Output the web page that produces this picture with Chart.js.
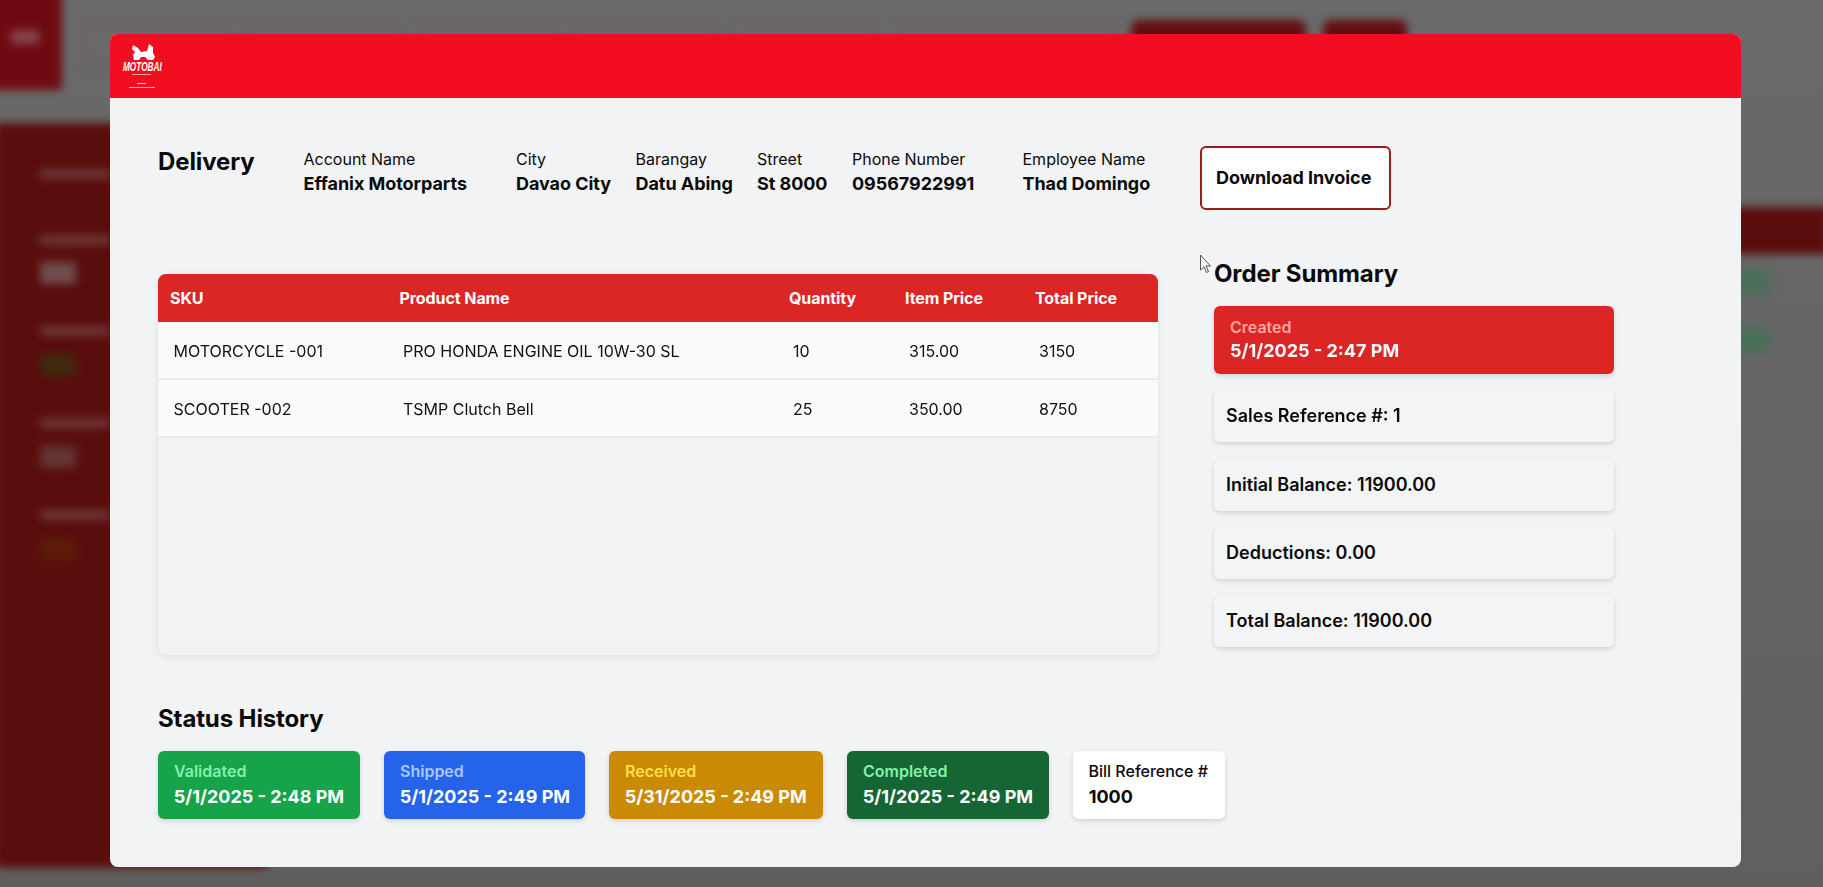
<!DOCTYPE html>
<html><head><meta charset="utf-8"><title>Delivery</title>
<script src="https://cdn.jsdelivr.net/npm/chart.js@4"></script>
<style>
html,body{margin:0;padding:0;width:1823px;height:887px;overflow:hidden;background:#666;font-family:Inter,sans-serif;color:#0a0a0a}
.a{position:absolute}
.t{position:absolute;white-space:nowrap;line-height:1;transform:translateY(-50%)}
#bg{position:absolute;left:0;top:0;width:1823px;height:887px;background:linear-gradient(#6a6a6a,#5f5f5f);overflow:hidden}
#blur{position:absolute;inset:0;filter:blur(4px)}
#modal{position:absolute;left:110px;top:33.5px;width:1630.5px;height:833.5px;background:#f1f3f5;border-radius:8px;overflow:hidden}
#page{position:absolute;left:0;top:0;width:1823px;height:887px}
.card{position:absolute;border-radius:6px;box-shadow:0 2px 5px rgba(0,0,0,.14)}
.h{font-size:24px;font-weight:700;letter-spacing:-.12px}
.lab{font-size:16px;font-weight:400}
.val{font-size:18px;font-weight:700;letter-spacing:-.05px}
.th{font-size:16px;font-weight:700;color:#fff;letter-spacing:-.08px}
.td{font-size:16px;font-weight:400;color:#111}
.sum{font-size:18px;font-weight:600}
.cl{font-size:16px;font-weight:600}
.cv{font-size:18px;font-weight:700;color:#fff}
</style></head><body>
<div id="bg"><div id="blur"></div></div>
<div id="modal"></div>
<div id="page">
  <div class="a" style="left:110px;top:33.5px;width:1630.5px;height:64.5px;background:#f20d20;border-radius:8px 8px 0 0"></div>
  <svg class="a" style="left:120px;top:42px" width="60" height="50" viewBox="0 0 60 50">
    <path d="M13 3L18 6 21 10 27 9 29 2 33 5 33 11 35 15 33 18 28 18 25 15 21 15 19 18 14 18 13 13 15 10 12 7Z" fill="#fff"/>
    <text transform="translate(3 29) scale(.66 1)" font-family="Liberation Sans" font-style="italic" font-weight="700" font-size="12.500" fill="#fff">MOTOBAI</text>
    <rect x="12" y="32" width="19" height="1" fill="#fff" opacity=".6"/>
    <rect x="17" y="41" width="9" height="1" fill="#fff" opacity=".8"/>
    <rect x="9" y="45" width="26" height="1" fill="#fff" opacity=".7"/>
  </svg>
  <div class="a" style="left:158px;top:274px;width:1000px;height:381px;background:#f1f3f5;border-radius:8px;box-shadow:0 2px 7px rgba(0,0,0,.09)"></div>
  <div class="a" style="left:158px;top:274px;width:1000px;height:48px;background:#dc2626;border-radius:8px 8px 0 0"></div>
  <canvas id="rows" class="a" style="left:158px;top:322px" width="1000" height="116"></canvas>
  <div class="a" style="left:1199.5px;top:146px;width:187px;height:60px;background:#fff;border:2px solid #991b1b;border-radius:6px"></div>
  <svg class="a" style="left:1199px;top:254px" width="14" height="20" viewBox="0 0 14 20"><path d="M1.500 1v15l3.500-3 2.500 5.500 2-1-2.500-5.500h4.500z" fill="#f4f4f4" stroke="#555" stroke-width="1"/></svg>
</div>
<script>
// Modal header row
const deliveryFieldLabels = ["Account Name","City","Barangay","Street","Phone Number","Employee Name"];
const deliveryFieldValues = ["Effanix Motorparts","Davao City","Datu Abing","St 8000","09567922991","Thad Domingo"];
// Table
const tableHeaders = ["SKU","Product Name","Quantity","Item Price","Total Price"];
const skus = ["MOTORCYCLE -001","SCOOTER -002"];
const productNames = ["PRO HONDA ENGINE OIL 10W-30 SL","TSMP Clutch Bell"];
const quantities = ["10","25"];
const itemPrices = ["315.00","350.00"];
const totalPrices = ["3150","8750"];
const rowWidthPercent = [100,100];
// Summary
const summaryLines = ["Sales Reference #: 1","Initial Balance: 11900.00","Deductions: 0.00","Total Balance: 11900.00"];
// Status
const statusLabels = ["Validated","Shipped","Received","Completed","Bill Reference #"];
const statusValues = ["5/1/2025 - 2:48 PM","5/1/2025 - 2:49 PM","5/31/2025 - 2:49 PM","5/1/2025 - 2:49 PM","1000"];

const page=document.getElementById('page');
function text(s,x,y,cls,style){const d=document.createElement('div');d.className='t '+(cls||'');d.textContent=s;d.style.left=x+'px';d.style.top=y+'px';if(style)Object.assign(d.style,style);page.appendChild(d);return d}
function box(parent,x,y,w,h,style,cls){const d=document.createElement('div');d.className=cls||'a';Object.assign(d.style,{left:x+'px',top:y+'px',width:w+'px',height:h+'px',position:'absolute'},style||{});parent.appendChild(d);return d}

// Table rows, drawn by Chart.js as full-width horizontal bars
new Chart(document.getElementById('rows'),{
  type:'bar',
  data:{labels:skus,datasets:[{data:rowWidthPercent,backgroundColor:'#f9fafa',borderColor:'#e4e7ea',
    borderWidth:{top:0,left:0,right:0,bottom:2},borderSkipped:false,barPercentage:1,categoryPercentage:1}]},
  options:{indexAxis:'y',responsive:false,animation:false,devicePixelRatio:1,
    layout:{padding:0},
    plugins:{legend:{display:false},tooltip:{enabled:false},title:{display:false}},
    scales:{x:{display:false,min:0,max:100,offset:false},y:{display:false}}}
});

text("Delivery",158,162,'h');
const fieldX=[303.5,516,635.5,757,852,1022.5];
deliveryFieldLabels.forEach((s,i)=>{text(s,fieldX[i],158.5,'lab');text(deliveryFieldValues[i],fieldX[i],184,'val')});
text("Download Invoice",1216,178,'val');

const colHead=[170,399.5,789,905,1035];
tableHeaders.forEach((s,i)=>text(s,colHead[i],298,'th'));
const colBody=[173.5,403,793,909,1039], rowY=[350.5,408.5];
[skus,productNames,quantities,itemPrices,totalPrices].forEach((col,c)=>col.forEach((s,r)=>text(s,colBody[c],rowY[r],'td')));

text("Order Summary",1214,274,'h');
box(page,1214,306,400,68,{background:'#dc2626'},'card');
text("Created",1230,326.5,'cl',{color:'#fca5a5'});
text("5/1/2025 - 2:47 PM",1230,351,'cv');
summaryLines.forEach((s,i)=>{box(page,1214,390+68*i+(i?.5:0),400,52,{background:'#f3f4f6'},'card');text(s,1226,415.5+68*i+(i?1:.5),'sum')});

text("Status History",158,718.5,'h');
const sx=[158,384,609,847,1073], sw=[202,201,214,202,152];
const sbg=['#16a34a','#2563eb','#ca8a04','#166534','#ffffff'], slc=['#86efac','#a9c8fb','#fde047','#86efac','#0a0a0a'], svc=['#fff','#fff','#fff','#fff','#0a0a0a'];
statusLabels.forEach((s,i)=>{box(page,sx[i],751,sw[i],68,{background:sbg[i]},'card');
  text(s,sx[i]+16-(i==4?.5:0),770.5,'cl',{color:slc[i],fontWeight:i==4?500:600});text(statusValues[i],sx[i]+16-.3,797,'cv',{color:svc[i]})});

// Blurred page behind the dimmed overlay (shapes only, no legible content)
const b=document.getElementById('blur');
box(b,-10,-10,72,100,{background:'#6f0a12',borderRadius:'4px'});
box(b,10,30,30,14,{background:'#85454c',borderRadius:'6px'});
[[85,148],[245,159],[416,145],[573,145],[732,148],[894,224]].forEach(([x,w])=>box(b,x,20,w,48,{border:'3px solid #735c5c',borderRadius:'8px',boxSizing:'border-box'}));
[[1131,175],[1323,84]].forEach(([x,w])=>box(b,x,20,w,48,{background:'#640d10',borderRadius:'8px'}));
box(b,-6,123,274,745,{background:'#5a0d0d',borderRadius:'6px'});
[[174,70],[240,70],[331,70],[423,70],[515,70]].forEach(([y,w])=>box(b,40,y-5,w,10,{background:'#6c3636',borderRadius:'3px'}));
box(b,40,262,36,22,{background:'#704c4c',borderRadius:'3px'});
box(b,40,354,36,22,{background:'#3f2a0e',borderRadius:'3px'});
box(b,40,446,36,22,{background:'#643434',borderRadius:'3px'});
box(b,40,538,36,22,{background:'#5c1c08',borderRadius:'3px'});
box(b,1700,207,130,47,{background:'#5a0d0d'});
box(b,1700,269,72,26,{background:'#4a6f58',borderRadius:'12px'});
box(b,1700,327,72,26,{background:'#4a6f58',borderRadius:'12px'});
</script>
</body></html>
